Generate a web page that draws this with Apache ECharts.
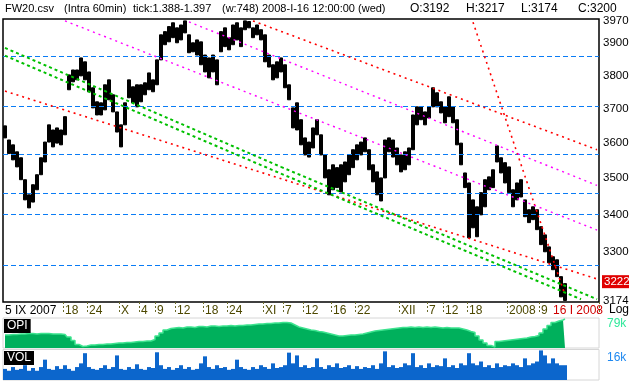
<!DOCTYPE html>
<html><head><meta charset="utf-8">
<script src="https://cdn.jsdelivr.net/npm/echarts@6/dist/echarts.min.js"></script>
<style>html,body{margin:0;padding:0;background:#fff}#c{width:629px;height:384px}</style>
</head><body><div id="c"></div>
<script>
// ---- data ----
const highs = [3650,3609,3595,3575,3558,3496,3454,3482,3510,3558,
 3603,3653,3638,3644,3638,3677,3802,3817,3817,3854,
 3842,3811,3763,3721,3718,3772,3787,3742,3691,3653,
 3718,3787,3766,3772,3772,3778,3808,3787,3848,3926,
 3936,3952,3964,3948,3957,3970,3926,3901,3910,3904,
 3863,3854,3863,3848,3936,3948,3917,3957,3964,3948,
 3970,3968,3948,3957,3942,3926,3863,3833,3842,3854,
 3833,3772,3703,3718,3668,3615,3603,3644,3668,3624,
 3566,3524,3538,3530,3538,3546,3566,3581,3595,3603,
 3615,3581,3538,3518,3501,3609,3615,3609,3586,3566,
 3575,3586,3682,3706,3706,3691,3706,3763,3748,3721,
 3706,3736,3706,3668,3600,3515,3487,3440,3421,3460,
 3496,3504,3524,3592,3558,3544,3532,3468,3487,3496,
 3440,3413,3421,3413,3367,3345,3313,3287,3279,3235,
 3217];
const lows = [3615,3570,3552,3532,3496,3440,3418,3434,3468,3510,
 3546,3603,3589,3600,3595,3624,3757,3781,3787,3799,
 3787,3751,3703,3682,3682,3697,3727,3691,3632,3589,
 3653,3733,3718,3706,3721,3742,3757,3751,3772,3848,
 3895,3904,3917,3901,3910,3932,3870,3873,3863,3833,
 3811,3793,3811,3772,3873,3889,3879,3895,3910,3889,
 3942,3948,3917,3926,3910,3842,3826,3787,3793,3811,
 3763,3727,3644,3638,3595,3566,3560,3586,3624,3566,
 3501,3454,3468,3474,3462,3490,3510,3530,3552,3566,
 3575,3524,3490,3454,3437,3501,3575,3560,3538,3518,
 3524,3538,3581,3653,3668,3653,3673,3706,3706,3688,
 3659,3677,3659,3595,3538,3474,3337,3364,3340,3399,
 3421,3468,3474,3546,3515,3487,3460,3421,3440,3448,
 3394,3378,3386,3359,3319,3300,3271,3253,3235,3183,
 3174];
const opi = [63,63,63.5,63.5,64,64,64.5,64.5,64,64.5,
 64.5,64.5,64,64,64,63.5,61,57.5,53.5,51.5,
 52,53,53,53.5,53.5,54,54,54.5,55,55,
 55.5,55.5,56,56.5,56.5,57,57,58.5,62,65,
 68,69.5,70,70.5,70,71,71,70.5,71.5,71.5,
 71,72,72,71.5,72,72,72.5,72,72.5,72.5,
 73,73,73.5,74,74,74.5,74.5,75,75,75.5,
 75.5,75,73,71,70,69,68,67.5,66.5,66,
 65,64,63,62,62,62.5,63,63,63.5,64,
 65,66,67,67.5,68,68.5,69,69.5,70,70.5,
 70.5,71,70.5,71,70.5,71,70.5,71,70.5,70,
 70.5,70,70,70,69,68,66.5,65.5,62,58,
 55,52.5,51,56.5,57,57.5,58,58.5,59,59.5,
 60,61,61.5,62.5,65,69,72.5,75.5,77,78,
 79];
const vol = [6,5,7,5.5,6,8,5,6.5,5,7,
 11,6,5.5,7.5,6,8,6,5,7,9,
 14.5,7,6,5.5,6.5,8,6,7,13.3,6,
 5.5,7,6,8.5,6,5.5,7,6.5,15,8,
 6,7,5.5,6.5,8,6,7,5.5,6,9,
 12.8,7,6,8,6.5,7,5.5,6,11,7,
 6,5.5,7,6,8,7,6,9,6.5,7,
 8,14.8,9,13.3,7,8,6.5,7,11.7,7,
 6,8,7,9,6.5,7,8,6,7.5,6,
 7,6.5,8,6,9,15.5,7,8,6.5,7,
 9,8,14.5,7,8,6.5,9,7,8,7.5,
 11.7,7,8,6.5,9,8,14.5,9,8,10,
 7,8,6.5,9,7,8,7.5,9,8,7,
 11.7,8,9,10,16,13.3,9,11.7,9,8,
 8];
const tickIdx  = [0,15,21,29,34,38,43,50,56,65,70,75,82,88,99,106,110,116,126,134,137];
const tickText = ['5 IX 2007','18','24','X','4','9','12','18','24','XI','7','12','16','22','XII','7','12','18','2008','9','16 I 2008'];
const priceTicks = [3970,3900,3800,3700,3600,3500,3400,3300,3174];
const lastPrice = 3222;
const levels = [3860,3709,3568,3459,3401,3265];
// trend segments: [fromIndex, fromPrice, toIndex, toPrice]
const redLines     = [[62,3970,148,3581],[0,3753,148,3229],[117,3966,140,3188]];
const magentaLines = [[46,3967,148,3480],[15,3970,148,3358]];
const greenLines   = [[0,3885,69,3532],[69,3532,148,3177],[0,3861,69,3513],[69,3513,144,3177]];
const header = [['FW20.csv',5],['(Intra 60min)',64],['tick:1.388-1.397',133],['(w:748)',222],
  ['2008-I-16 12:00:00 (wed)',262],['O:3192',410],['H:3217',466],['L:3174',521],['C:3200',578]];

// ---- chart ----
const FONT = 'Liberation Sans, Arial, sans-serif';
const NCAT = 149;
const cats = Array.from({length: NCAT}, (_, i) => String(i));
const candle = highs.map((h, i) => [lows[i], h, lows[i], h]);
const labelMap = {};
tickIdx.forEach((k, j) => { labelMap[k] = tickText[j]; });
const HIDDEN = {color: 'rgba(0,0,0,0)', width: 1, type: 'solid'};

const seg = (arr, color, width, dash) => arr.map(s => [
  {coord: [s[0], s[1]], lineStyle: {color: color, width: width, type: dash}, label: {show: false}},
  {coord: [s[2], s[3]]}
]);
const markData = []
  .concat(levels.map(v => ({yAxis: v, lineStyle: {color: '#0a7cf5', width: 1, type: [5, 3]}, label: {show: false}})))
  .concat(seg(redLines, '#ff0000', 1.6, [2, 4]))
  .concat(seg(magentaLines, '#ff00ff', 1.4, [2, 4]))
  .concat(seg(greenLines, '#00c000', 2, [3, 3]))
  .concat(priceTicks.map(v => ({yAxis: v, lineStyle: HIDDEN,
     label: {show: true, position: 'end', distance: 4, formatter: String(v), color: '#000', fontSize: 11.5, fontFamily: FONT}})))
  .concat([{yAxis: lastPrice, lineStyle: HIDDEN,
     label: {show: true, position: 'end', distance: 3, formatter: String(lastPrice), color: '#fff', backgroundColor: '#e00000',
       padding: [1, 2, 0, 2], fontSize: 11.5, fontFamily: FONT}}]);

const txt = (c, s) => ({fontSize: s || 12, fontWeight: 'normal', color: c, fontFamily: FONT});
const titles = header.map((h, k) => ({text: h[0], left: h[1], top: 3, padding: 0, textStyle: txt('#000', k < 5 ? 11 : 12)}));
titles.push({text: 'Log', left: 609, top: 304, padding: 0, textStyle: txt('#000')});
titles.push({text: '79k', left: 607, top: 318, padding: 0, textStyle: txt('#2ee89a')});
titles.push({text: '16k', left: 607, top: 352, padding: 0, textStyle: txt('#1e88f0')});
titles.push({text: 'OPI', left: 4, top: 319, padding: [1, 3, 1, 3], backgroundColor: '#000', textStyle: txt('#fff')});
titles.push({text: 'VOL', left: 4, top: 351, padding: [1, 3, 1, 3], backgroundColor: '#000', textStyle: txt('#fff')});

const chart = echarts.init(document.getElementById('c'), null, {renderer: 'canvas'});
chart.setOption({
  animation: false,
  backgroundColor: '#fff',
  title: titles,
  grid: [
    {left: 3, top: 19, width: 596, height: 283, show: true, borderColor: '#000', borderWidth: 1.5, containLabel: false, outerBoundsMode: 'none'},
    {left: 3, top: 318, width: 596, height: 30, show: true, borderColor: '#d6d6d6', borderWidth: 1, containLabel: false, outerBoundsMode: 'none'},
    {left: 3, top: 349.5, width: 596, height: 30.5, show: true, borderColor: '#d6d6d6', borderWidth: 1, containLabel: false, outerBoundsMode: 'none'}
  ],
  xAxis: [
    {type: 'category', gridIndex: 0, data: cats, boundaryGap: true,
     axisLine: {show: false},
     axisTick: {show: true, length: 11, interval: (i) => (i in labelMap) && i !== 0 && i !== 137,
                lineStyle: {color: '#6b6b2a', width: 1, type: [2, 2]}},
     axisLabel: {show: true, interval: (i) => (i in labelMap), margin: 3, align: 'left',
                 fontSize: 12, fontFamily: FONT,
                 formatter: (v) => labelMap[Number(v)] || '',
                 color: (v) => { const n = Number(v); return n === 0 ? '#000' : (n === 137 ? '#d00000' : '#4d4800'); }},
     splitLine: {show: false}},
    {type: 'category', gridIndex: 1, data: cats, boundaryGap: true, show: false},
    {type: 'category', gridIndex: 2, data: cats, boundaryGap: true, show: false}
  ],
  yAxis: [
    {type: 'log', logBase: 10, gridIndex: 0, min: 3170, max: 3976,
     axisLine: {show: false}, axisTick: {show: false}, axisLabel: {show: false}, splitLine: {show: false}},
    {type: 'value', gridIndex: 1, min: 50, max: 80, show: false, splitLine: {show: false}},
    {type: 'value', gridIndex: 2, min: 0, max: 16.5, show: false, splitLine: {show: false}}
  ],
  series: [
    {type: 'candlestick', xAxisIndex: 0, yAxisIndex: 0, data: candle, barWidth: 2.6, silent: true,
     itemStyle: {color: '#000', color0: '#000', borderColor: '#000', borderColor0: '#000', borderWidth: 1},
     markLine: {symbol: ['none', 'none'], silent: true, animation: false, precision: 0, data: markData}},
    {type: 'line', xAxisIndex: 1, yAxisIndex: 1, data: opi, symbol: 'none', step: 'middle', silent: true,
     lineStyle: {color: '#3de38f', width: 1.5}, areaStyle: {color: '#00b05c', opacity: 1}},
    {type: 'bar', xAxisIndex: 2, yAxisIndex: 2, data: vol, barCategoryGap: '0%', silent: true,
     itemStyle: {color: '#0c66cc'}}
  ]
});
</script>
</body></html>
